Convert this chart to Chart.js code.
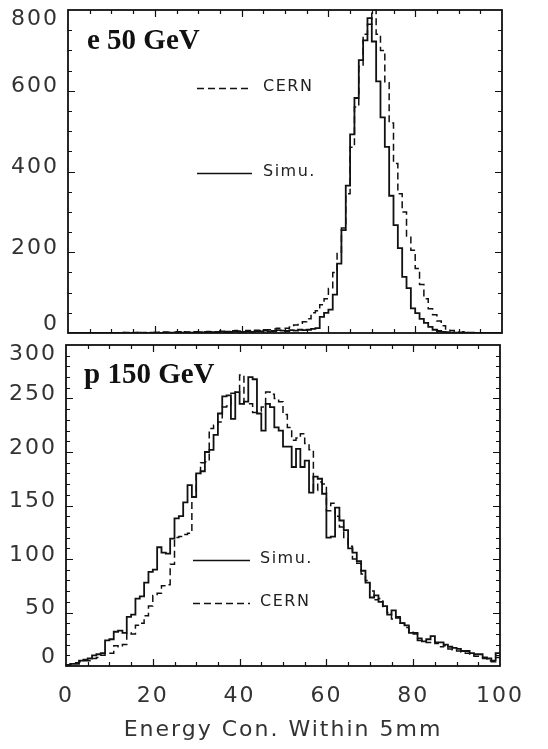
<!DOCTYPE html>
<html>
<head>
<meta charset="utf-8">
<script src="https://cdn.jsdelivr.net/npm/chart.js@4.4.1/dist/chart.umd.min.js"></script>
<style>
  body { margin: 0; background: #fff; }
  #wrap { position: relative; width: 548px; height: 749px; }
  canvas { position: absolute; left: 0; }
</style>
</head>
<body>
<div id="wrap">
  <canvas id="eChart" width="548" height="345" style="top:0"></canvas>
  <canvas id="pChart" width="548" height="429" style="top:320px"></canvas>
</div>
<script>
// bins are 1 unit wide, value i covers [i, i+1)
const binStart = Array.from({ length: 100 }, (_, i) => i);
const xTicks = [0, 20, 40, 60, 80, 100];
const eTicks = [0, 200, 400, 600, 800];
const pTicks = [0, 50, 100, 150, 200, 250, 300];

// e 50 GeV panel
const eSimu = [
  0, 0, 0, 0, 0, 0, 0, 0, 0, 0,
  0, 0, 0, 1, 0, 0, 1, 0, 0, 1,
  1, 0, 2, 1, 1, 3, 1, 2, 1, 2,
  2, 1, 3, 2, 2, 4, 2, 3, 5, 3,
  3, 4, 3, 5, 4, 6, 4, 5, 7, 6,
  5, 7, 6, 8, 7, 8, 10, 12, 40, 50,
  58, 95, 172, 255, 365, 492, 582, 676, 725, 780,
  722, 623, 534, 461, 340, 267, 210, 139, 111, 61,
  49, 35, 25, 15, 8, 5, 3, 2, 1, 1,
  0, 1, 0, 0, 0, 0, 0, 0, 0, 0
];
const eCern = [
  0, 0, 0, 0, 0, 0, 0, 0, 0, 0,
  0, 0, 1, 0, 0, 1, 0, 1, 0, 1,
  1, 2, 1, 1, 2, 1, 3, 2, 2, 3,
  2, 3, 4, 3, 3, 5, 4, 4, 6, 5,
  5, 6, 5, 7, 6, 8, 8, 10, 12, 12,
  12, 15, 20, 24, 28, 35, 50, 55, 70, 85,
  110, 150, 200, 260, 345, 460, 560, 660, 740, 765,
  800, 740, 700, 620, 520, 420, 345, 300, 240, 205,
  160, 120, 85, 60, 45, 30, 18, 10, 6, 3,
  2, 3, 1, 1, 0, 0, 0, 0, 0, 0
];

// p 150 GeV panel
const pSimu = [
  1, 2, 2, 5, 6, 7, 10, 11, 12, 24,
  25, 32, 33, 31, 46, 48, 63, 65, 78, 88,
  90, 111, 106, 105, 119, 138, 140, 153, 169, 158,
  180, 182, 200, 202, 216, 236, 252, 253, 231, 256,
  245, 247, 270, 268, 236, 220, 245, 242, 223, 220,
  205, 205, 186, 203, 186, 192, 162, 177, 175, 161,
  120, 121, 148, 136, 127, 110, 106, 98, 89, 78,
  64, 66, 60, 56, 48, 52, 45, 40, 38, 31,
  31, 24, 23, 25, 28, 22, 22, 20, 18, 17,
  16, 14, 14, 12, 11, 11, 8, 7, 5, 12
];
const pCern = [
  1, 2, 3, 4, 5, 5, 7, 8, 10, 12,
  12, 19, 18, 20, 31, 30, 38, 40, 47, 56,
  66, 68, 75, 76, 95, 120, 121, 123, 124, 158,
  180, 190, 191, 222, 225, 228, 242, 243, 255, 256,
  272, 245, 245, 237, 238, 242, 256, 254, 250, 247,
  235, 223, 211, 213, 217, 208, 202, 164, 172, 170,
  145, 152, 140, 130, 120, 112, 100, 96, 86, 80,
  70, 62, 63, 55, 50, 44, 46, 40, 36, 33,
  30, 26, 24, 22, 23, 21, 18, 19, 16, 15,
  14, 13, 12, 10, 9, 8, 7, 5, 4, 8
];

function steps(vals) {
  const pts = vals.map((v, i) => ({ x: binStart[i], y: v }));
  pts.push({ x: binStart[vals.length - 1] + 1, y: vals[vals.length - 1] });
  return pts;
}

const INK = '#111';
const tickFont = 'DejaVu Sans';

// frame + inward tick marks on all four sides
const frameTicks = {
  id: 'frameTicks',
  beforeDraw(chart) { chart.ctx.letterSpacing = '2px'; },
  afterDraw(chart, args, o) {
    const { ctx, chartArea: a } = chart;
    const x = chart.scales.x, y = chart.scales.y;
    ctx.save();
    ctx.strokeStyle = INK;
    ctx.lineWidth = 1.2;
    ctx.beginPath();
    for (let v = x.min + o.xMinor; v < x.max; v += o.xMinor) {
      const px = Math.round(x.getPixelForValue(v)) + 0.5;
      const len = v % o.xMajor === 0 ? 7 : 4;
      ctx.moveTo(px, a.bottom); ctx.lineTo(px, a.bottom - len);
      ctx.moveTo(px, a.top); ctx.lineTo(px, a.top + len);
    }
    for (let v = y.min + o.yMinor; v < y.max; v += o.yMinor) {
      const py = Math.round(y.getPixelForValue(v)) + 0.5;
      const len = v % o.yMajor === 0 ? 7 : 4;
      ctx.moveTo(a.left, py); ctx.lineTo(a.left + len, py);
      ctx.moveTo(a.right, py); ctx.lineTo(a.right - len, py);
    }
    ctx.stroke();
    ctx.lineWidth = 1.8;
    ctx.strokeRect(a.left, a.top, a.right - a.left, a.bottom - a.top);
    ctx.restore();
  }
};

// panel name and the little in-plot legend
const panelDecor = {
  id: 'panelDecor',
  afterDatasetsDraw(chart, args, o) {
    const ctx = chart.ctx;
    ctx.save();
    ctx.letterSpacing = '0px';
    ctx.fillStyle = INK;
    ctx.font = 'bold 29px "Liberation Serif"';
    ctx.textBaseline = 'alphabetic';
    ctx.fillText(o.title, o.titleX, o.titleY);
    ctx.letterSpacing = '1.5px';
    ctx.font = '16px "DejaVu Sans"';
    ctx.textBaseline = 'middle';
    o.items.forEach(it => {
      const ds = chart.data.datasets[it.ds];
      ctx.strokeStyle = INK;
      ctx.lineWidth = 1.3;
      ctx.setLineDash(ds.borderDash || []);
      ctx.beginPath();
      ctx.moveTo(o.lineX1, it.y + 0.5);
      ctx.lineTo(o.lineX2, it.y + 0.5);
      ctx.stroke();
      ctx.setLineDash([]);
      ctx.fillStyle = '#222';
      ctx.fillText(ds.label, o.textX, it.y - 1);
    });
    ctx.restore();
  }
};

function yTickOpts(padding, tickVals) {
  const last = tickVals.length - 1;
  return {
    padding: padding,
    labelOffset: -4,
    autoSkip: false,
    color: '#333',
    callback: function (value, index) {
      if (index === last) return ['', String(value)];
      if (index === 0) return [String(value), ''];
      return String(value);
    },
    font: function (c) {
      const i = c && typeof c.index === 'number' ? c.index : -1;
      return { family: tickFont, size: 22, lineHeight: i === 0 ? 0.45 : 1.2 };
    }
  };
}

// keep the panel frame where it is: no extra room for the end labels
function fixY(width) {
  return s => { s.width = width; s.paddingTop = 0; s.paddingBottom = 0; };
}

function histDatasets(simu, cern) {
  return [
    { label: 'Simu.', data: steps(simu), borderColor: INK, borderWidth: 1.8, stepped: 'before', pointRadius: 0, fill: false },
    { label: 'CERN', data: steps(cern), borderColor: INK, borderWidth: 1.5, borderDash: [7, 4], stepped: 'before', pointRadius: 0, fill: false }
  ];
}

new Chart('eChart', {
  type: 'line',
  data: { datasets: histDatasets(eSimu, eCern) },
  options: {
    responsive: false,
    animation: false,
    devicePixelRatio: 1,
    layout: { padding: { top: 10, right: 46, bottom: 12, left: 0 } },
    plugins: {
      legend: { display: false },
      tooltip: { enabled: false },
      frameTicks: { xMinor: 5, xMajor: 20, yMinor: 50, yMajor: 200 },
      panelDecor: {
        title: 'e 50 GeV', titleX: 87, titleY: 49,
        lineX1: 197, lineX2: 252, textX: 263,
        items: [{ ds: 1, y: 88 }, { ds: 0, y: 173 }]
      }
    },
    scales: {
      x: { type: 'linear', min: 0, max: 100, display: false },
      y: {
        min: 0, max: 800,
        afterBuildTicks: s => { s.ticks = eTicks.map(v => ({ value: v })); },
        afterFit: fixY(68),
        grid: { display: false, drawTicks: false },
        border: { display: false },
        ticks: yTickOpts(9, eTicks)
      }
    }
  },
  plugins: [frameTicks, panelDecor]
});

new Chart('pChart', {
  type: 'line',
  data: { datasets: histDatasets(pSimu, pCern) },
  options: {
    responsive: false,
    animation: false,
    devicePixelRatio: 1,
    layout: { padding: { top: 25, right: 48, bottom: 0, left: 0 } },
    plugins: {
      legend: { display: false },
      tooltip: { enabled: false },
      frameTicks: { xMinor: 5, xMajor: 20, yMinor: 10, yMajor: 50 },
      panelDecor: {
        title: 'p 150 GeV', titleX: 84, titleY: 63,
        lineX1: 193, lineX2: 250, textX: 260,
        items: [{ ds: 0, y: 240 }, { ds: 1, y: 283 }]
      }
    },
    scales: {
      x: {
        type: 'linear', min: 0, max: 100,
        afterBuildTicks: s => { s.ticks = xTicks.map(v => ({ value: v })); },
        afterFit: s => { s.height = 83; s.paddingLeft = 0; s.paddingRight = 0; },
        grid: { display: false, drawTicks: false },
        border: { display: false },
        ticks: { padding: 17, autoSkip: false, maxRotation: 0, color: '#333', font: { family: tickFont, size: 22 } },
        title: {
          display: true,
          text: 'Energy Con. Within 5mm',
          color: '#333',
          font: { family: tickFont, size: 22 },
          padding: { top: 0, bottom: 6 }
        }
      },
      y: {
        min: 0, max: 300,
        afterBuildTicks: s => { s.ticks = pTicks.map(v => ({ value: v })); },
        afterFit: fixY(66),
        grid: { display: false, drawTicks: false },
        border: { display: false },
        ticks: yTickOpts(9, pTicks)
      }
    }
  },
  plugins: [frameTicks, panelDecor]
});
</script>
</body>
</html>
